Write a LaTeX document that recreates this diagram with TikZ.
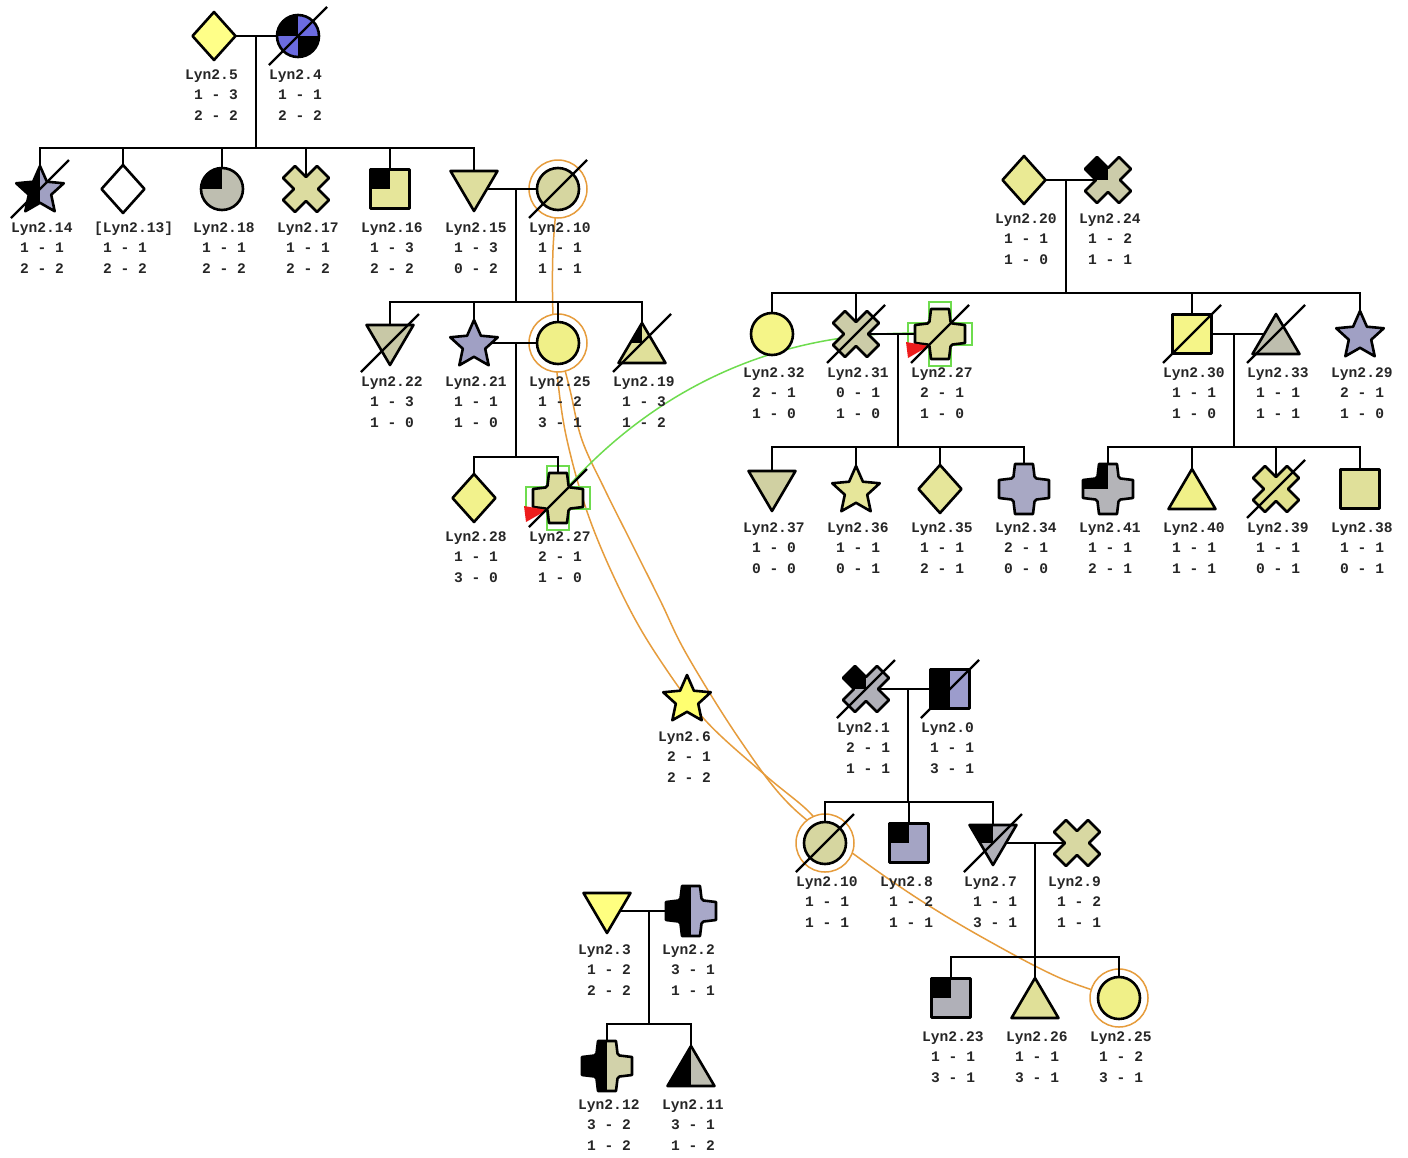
\documentclass[tikz,border=0pt]{standalone}
\usepackage{fontspec}
\newfontfamily\lblfont{Liberation Mono}
\usetikzlibrary{calc}
\definecolor{orgc}{HTML}{E69C3C}
\definecolor{grnc}{HTML}{6EDC4E}
\definecolor{redc}{HTML}{EE1C1C}
\definecolor{c5}{HTML}{FFFF88}
\definecolor{c4}{HTML}{6B6BE0}
\definecolor{c14}{HTML}{A0A0C2}
\definecolor{c18}{HTML}{BEBEB0}
\definecolor{c17}{HTML}{DCDCA0}
\definecolor{c16}{HTML}{E6E69A}
\definecolor{c15}{HTML}{DEDE9E}
\definecolor{c10}{HTML}{D6D6A0}
\definecolor{c22}{HTML}{C8C8A6}
\definecolor{c21}{HTML}{A0A0C4}
\definecolor{c25}{HTML}{F0F088}
\definecolor{c19}{HTML}{E0E09A}
\definecolor{c28}{HTML}{F2F28C}
\definecolor{c27}{HTML}{DCDC9C}
\definecolor{c20}{HTML}{EAEA94}
\definecolor{c24}{HTML}{CCCCAA}
\definecolor{c32}{HTML}{F5F588}
\definecolor{c31}{HTML}{CCCCA8}
\definecolor{c30}{HTML}{F5F588}
\definecolor{c33}{HTML}{BEBEAE}
\definecolor{c29}{HTML}{A0A0C4}
\definecolor{c37}{HTML}{D0D0A2}
\definecolor{c36}{HTML}{E6E69A}
\definecolor{c35}{HTML}{E6E69A}
\definecolor{c34}{HTML}{A8A8C4}
\definecolor{c41}{HTML}{B4B4B8}
\definecolor{c40}{HTML}{F0F088}
\definecolor{c39}{HTML}{E2E28E}
\definecolor{c38}{HTML}{E0E09A}
\definecolor{c6}{HTML}{FFFF70}
\definecolor{c1}{HTML}{B0B0B8}
\definecolor{c0}{HTML}{9C9CCC}
\definecolor{c8}{HTML}{A4A4C4}
\definecolor{c7}{HTML}{B0B0B8}
\definecolor{c9}{HTML}{D8D8A2}
\definecolor{c23}{HTML}{B0B0B8}
\definecolor{c26}{HTML}{E0E098}
\definecolor{c3}{HTML}{FFFF80}
\definecolor{c2}{HTML}{A8A8C8}
\definecolor{c12}{HTML}{D2D2AA}
\definecolor{c11}{HTML}{BEBEB2}
% shape paths (local coordinates, y downwards)
\newcommand{\ShCirc}{(0,0) circle[radius=21pt]}
\newcommand{\ShSq}{(-19.5,-19.5) rectangle (19.5,19.5)}
\newcommand{\ShDia}{(0,-24) -- (21.5,0) -- (0,24) -- (-21.5,0) -- cycle}
\newcommand{\ShDn}{(-23.5,-18) -- (23.5,-18) -- (0,22) -- cycle}
\newcommand{\ShUp}{(0,-20) -- (23.5,20) -- (-23.5,20) -- cycle}
\newcommand{\ShStar}{(0,-23) -- (6.9,-7.3) -- (23.78,-5.73) -- (11.2,5.7) -- (14.69,22.23) -- (0,13.8) -- (-14.69,22.23) -- (-11.2,5.7) -- (-23.78,-5.73) -- (-6.9,-7.3) -- cycle}
\newcommand{\ShPlus}{(-9,-25) -- (9,-25) -- (10.5,-12.5) -- (12.5,-10.5) -- (25,-9) -- (25,9) -- (12.5,10.5) -- (10.5,12.5) -- (9,25) -- (-9,25) -- (-10.5,12.5) -- (-12.5,10.5) -- (-25,9) -- (-25,-9) -- (-12.5,-10.5) -- (-10.5,-12.5) -- cycle}
\newcommand{\ShX}{(10.96,-22.98) -- (22.98,-10.96) -- (12.02,0) -- (22.98,10.96) -- (10.96,22.98) -- (0,12.02) -- (-10.96,22.98) -- (-22.98,10.96) -- (-12.02,0) -- (-22.98,-10.96) -- (-10.96,-22.98) -- (0,-12.02) -- cycle}
\newcommand{\ShGrn}{(-11,-32) -- (11,-32) -- (11,-11) -- (32,-11) -- (32,11) -- (11,11) -- (11,32) -- (-11,32) -- (-11,11) -- (-32,11) -- (-32,-11) -- (-11,-11) -- cycle}
% fill modes
\newcommand{\mNo}[1]{}
\newcommand{\mQ}[1]{\begin{scope}\clip #1; \fill[black] (-40,-40) rectangle (0,0);\end{scope}}
\newcommand{\mH}[1]{\begin{scope}\clip #1; \fill[black] (-40,-40) rectangle (0,40);\end{scope}}
\newcommand{\mX}[1]{\begin{scope}\clip #1; \fill[black] (-40,-40) rectangle (0,0); \fill[black] (0,0) rectangle (40,40);\end{scope}}
\newcommand{\shp}[4]{\begin{scope}[shift={(#1)}]\fill[#3] #2; #4{#2}\path[outl] #2;\end{scope}}
\newcommand{\dead}[1]{\draw[slash] ([shift={(-29,29)}]#1) -- ([shift={(29,-29)}]#1);}
\newcommand{\prob}[1]{\fill[redc] ([shift={(-34,8)}]#1) -- ([shift={(-32,24)}]#1) -- ([shift={(-11,12)}]#1) -- cycle;}
\newcommand{\lab}[4]{%
 \node[nm] (#1-n) at ([shift={(-29,38.5)}]#1) {#2};
 \node[nm] (#1-p) at ([shift={(-20,59)}]#1) {#3};
 \node[nm] (#1-q) at ([shift={(-20,80)}]#1) {#4};}
\begin{document}
\begin{tikzpicture}[x=1pt,y=-1pt,
 outl/.style={draw=black,line width=2.6pt,line join=round},
 lnk/.style={draw=black,line width=2.3pt,line cap=rect},
 slash/.style={draw=black,line width=2.3pt},
 ring/.style={draw=orgc,line width=1.5pt,fill=white},
 dup/.style={draw=orgc,line width=1.5pt},
 grn/.style={draw=grnc,line width=1.5pt},
 nm/.style={font=\lblfont\bfseries\fontsize{14.6}{17}\selectfont,inner sep=0pt,anchor=west,text=black!85,text height=9pt,text depth=0pt}]
\fill[white] (0,0) rectangle (1408,1157);
\useasboundingbox (0,0) rectangle (1408,1157);
% individuals
\coordinate (i5) at (214,36);
\coordinate (i4) at (298,36);
\coordinate (i14) at (40,189);
\coordinate (i13) at (123,189);
\coordinate (i18) at (222,189);
\coordinate (i17) at (306,189);
\coordinate (i16) at (390,189);
\coordinate (i15) at (474,189);
\coordinate (i10t) at (558,189);
\coordinate (i22) at (390,343);
\coordinate (i21) at (474,343);
\coordinate (i25m) at (558,343);
\coordinate (i19) at (642,343);
\coordinate (i28) at (474,498);
\coordinate (i27l) at (558,498);
\coordinate (i20) at (1024,180);
\coordinate (i24) at (1108,180);
\coordinate (i32) at (772,334);
\coordinate (i31) at (856,334);
\coordinate (i27r) at (940,334);
\coordinate (i30) at (1192,334);
\coordinate (i33) at (1276,334);
\coordinate (i29) at (1360,334);
\coordinate (i37) at (772,489);
\coordinate (i36) at (856,489);
\coordinate (i35) at (940,489);
\coordinate (i34) at (1024,489);
\coordinate (i41) at (1108,489);
\coordinate (i40) at (1192,489);
\coordinate (i39) at (1276,489);
\coordinate (i38) at (1360,489);
\coordinate (i6) at (687,698);
\coordinate (i1) at (866,689);
\coordinate (i0) at (950,689);
\coordinate (i10b) at (825,843);
\coordinate (i8) at (909,843);
\coordinate (i7) at (993,843);
\coordinate (i9) at (1077,843);
\coordinate (i23) at (951,998);
\coordinate (i26) at (1035,998);
\coordinate (i25b) at (1119,998);
\coordinate (i3) at (607,911);
\coordinate (i2) at (691,911);
\coordinate (i12) at (607,1066);
\coordinate (i11) at (691,1066);
% duplicate links
\draw[dup] plot[smooth,tension=0.6] coordinates {(i10t) (553,250) (553,316) (557,373) (567,440) (590,520) (625,600) (660,660) (705,720) (765,775) (812,815) (i10b)};
\draw[dup] plot[smooth,tension=0.6] coordinates {(i25m) (570,390) (582,440) (605,490) (630,540) (660,600) (687,655) (740,740) (790,805) (855,855) (920,900) (987,940) (1060,978) (i25b)};
\draw[grn] (i27l) .. controls (650,390) and (780,325) .. (i27r);
% rings and outlines
\foreach \cc in {i10t,i25m,i10b,i25b} {\path[ring] (\cc) circle[radius=29pt];}
\foreach \cc in {i27l,i27r} {\begin{scope}[shift={(\cc)}]\path[grn] \ShGrn;\end{scope}}
% family lines
\draw[lnk] (i5) -- (i4);
\coordinate (m1) at ($(i5)!.5!(i4)$);
\coordinate (s1) at ($(m1)+(0,112)$);
\draw[lnk] (m1) -- (s1);
\draw[lnk] (i14 |- s1) -- (i15 |- s1);
\foreach \cc in {i14,i13,i18,i17,i16,i15} {\draw[lnk] (\cc |- s1) -- (\cc);}
\draw[lnk] (i15) -- (i10t);
\coordinate (m2) at ($(i15)!.5!(i10t)$);
\coordinate (s2) at ($(m2)+(0,113)$);
\draw[lnk] (m2) -- (s2);
\draw[lnk] (i22 |- s2) -- (i19 |- s2);
\foreach \cc in {i22,i21,i25m,i19} {\draw[lnk] (\cc |- s2) -- (\cc);}
\draw[lnk] (i21) -- (i25m);
\coordinate (m3) at ($(i21)!.5!(i25m)$);
\coordinate (s3) at ($(m3)+(0,114)$);
\draw[lnk] (m3) -- (s3);
\draw[lnk] (i28 |- s3) -- (i27l |- s3);
\foreach \cc in {i28,i27l} {\draw[lnk] (\cc |- s3) -- (\cc);}
\draw[lnk] (i20) -- (i24);
\coordinate (m4) at ($(i20)!.5!(i24)$);
\coordinate (s4) at ($(m4)+(0,113)$);
\draw[lnk] (m4) -- (s4);
\draw[lnk] (i32 |- s4) -- (i29 |- s4);
\foreach \cc in {i32,i31,i30,i29} {\draw[lnk] (\cc |- s4) -- (\cc);}
\draw[lnk] (i31) -- (i27r);
\coordinate (m5) at ($(i31)!.5!(i27r)$);
\coordinate (s5) at ($(m5)+(0,113)$);
\draw[lnk] (m5) -- (s5);
\draw[lnk] (i37 |- s5) -- (i34 |- s5);
\foreach \cc in {i37,i36,i35,i34} {\draw[lnk] (\cc |- s5) -- (\cc);}
\draw[lnk] (i30) -- (i33);
\coordinate (m6) at ($(i30)!.5!(i33)$);
\coordinate (s6) at ($(m6)+(0,113)$);
\draw[lnk] (m6) -- (s6);
\draw[lnk] (i41 |- s6) -- (i38 |- s6);
\foreach \cc in {i41,i40,i39,i38} {\draw[lnk] (\cc |- s6) -- (\cc);}
\draw[lnk] (i1) -- (i0);
\coordinate (m7) at ($(i1)!.5!(i0)$);
\coordinate (s7) at ($(m7)+(0,113)$);
\draw[lnk] (m7) -- (s7);
\draw[lnk] (i10b |- s7) -- (i7 |- s7);
\foreach \cc in {i10b,i8,i7} {\draw[lnk] (\cc |- s7) -- (\cc);}
\draw[lnk] (i7) -- (i9);
\coordinate (m8) at ($(i7)!.5!(i9)$);
\coordinate (s8) at ($(m8)+(0,114)$);
\draw[lnk] (m8) -- (s8);
\draw[lnk] (i23 |- s8) -- (i25b |- s8);
\foreach \cc in {i23,i26,i25b} {\draw[lnk] (\cc |- s8) -- (\cc);}
\draw[lnk] (i3) -- (i2);
\coordinate (m9) at ($(i3)!.5!(i2)$);
\coordinate (s9) at ($(m9)+(0,113)$);
\draw[lnk] (m9) -- (s9);
\draw[lnk] (i12 |- s9) -- (i11 |- s9);
\foreach \cc in {i12,i11} {\draw[lnk] (\cc |- s9) -- (\cc);}
% shapes
\shp{i5}{\ShDia}{c5}{\mNo}
\shp{i4}{\ShCirc}{c4}{\mX}
\shp{i14}{\ShStar}{c14}{\mH}
\shp{i13}{\ShDia}{white}{\mNo}
\shp{i18}{\ShCirc}{c18}{\mQ}
\shp{i17}{\ShX}{c17}{\mNo}
\shp{i16}{\ShSq}{c16}{\mQ}
\shp{i15}{\ShDn}{c15}{\mNo}
\shp{i10t}{\ShCirc}{c10}{\mNo}
\shp{i22}{\ShDn}{c22}{\mNo}
\shp{i21}{\ShStar}{c21}{\mNo}
\shp{i25m}{\ShCirc}{c25}{\mNo}
\shp{i19}{\ShUp}{c19}{\mQ}
\shp{i28}{\ShDia}{c28}{\mNo}
\shp{i27l}{\ShPlus}{c27}{\mNo}
\shp{i20}{\ShDia}{c20}{\mNo}
\shp{i24}{\ShX}{c24}{\mQ}
\shp{i32}{\ShCirc}{c32}{\mNo}
\shp{i31}{\ShX}{c31}{\mNo}
\shp{i27r}{\ShPlus}{c27}{\mNo}
\shp{i30}{\ShSq}{c30}{\mNo}
\shp{i33}{\ShUp}{c33}{\mNo}
\shp{i29}{\ShStar}{c29}{\mNo}
\shp{i37}{\ShDn}{c37}{\mNo}
\shp{i36}{\ShStar}{c36}{\mNo}
\shp{i35}{\ShDia}{c35}{\mNo}
\shp{i34}{\ShPlus}{c34}{\mNo}
\shp{i41}{\ShPlus}{c41}{\mQ}
\shp{i40}{\ShUp}{c40}{\mNo}
\shp{i39}{\ShX}{c39}{\mNo}
\shp{i38}{\ShSq}{c38}{\mNo}
\shp{i6}{\ShStar}{c6}{\mNo}
\shp{i1}{\ShX}{c1}{\mQ}
\shp{i0}{\ShSq}{c0}{\mH}
\shp{i10b}{\ShCirc}{c10}{\mNo}
\shp{i8}{\ShSq}{c8}{\mQ}
\shp{i7}{\ShDn}{c7}{\mQ}
\shp{i9}{\ShX}{c9}{\mNo}
\shp{i23}{\ShSq}{c23}{\mQ}
\shp{i26}{\ShUp}{c26}{\mNo}
\shp{i25b}{\ShCirc}{c25}{\mNo}
\shp{i3}{\ShDn}{c3}{\mNo}
\shp{i2}{\ShPlus}{c2}{\mH}
\shp{i12}{\ShPlus}{c12}{\mH}
\shp{i11}{\ShUp}{c11}{\mH}
% proband arrows
\prob{i27l}
\prob{i27r}
% deceased
\foreach \cc in {i4,i14,i10t,i22,i19,i27l,i31,i27r,i30,i33,i39,i1,i0,i10b,i7} {\dead{\cc}}
% labels
\lab{i5}{Lyn2.5}{1 - 3}{2 - 2}
\lab{i4}{Lyn2.4}{1 - 1}{2 - 2}
\lab{i14}{Lyn2.14}{1 - 1}{2 - 2}
\lab{i13}{[Lyn2.13]}{1 - 1}{2 - 2}
\lab{i18}{Lyn2.18}{1 - 1}{2 - 2}
\lab{i17}{Lyn2.17}{1 - 1}{2 - 2}
\lab{i16}{Lyn2.16}{1 - 3}{2 - 2}
\lab{i15}{Lyn2.15}{1 - 3}{0 - 2}
\lab{i10t}{Lyn2.10}{1 - 1}{1 - 1}
\lab{i22}{Lyn2.22}{1 - 3}{1 - 0}
\lab{i21}{Lyn2.21}{1 - 1}{1 - 0}
\lab{i25m}{Lyn2.25}{1 - 2}{3 - 1}
\lab{i19}{Lyn2.19}{1 - 3}{1 - 2}
\lab{i28}{Lyn2.28}{1 - 1}{3 - 0}
\lab{i27l}{Lyn2.27}{2 - 1}{1 - 0}
\lab{i20}{Lyn2.20}{1 - 1}{1 - 0}
\lab{i24}{Lyn2.24}{1 - 2}{1 - 1}
\lab{i32}{Lyn2.32}{2 - 1}{1 - 0}
\lab{i31}{Lyn2.31}{0 - 1}{1 - 0}
\lab{i27r}{Lyn2.27}{2 - 1}{1 - 0}
\lab{i30}{Lyn2.30}{1 - 1}{1 - 0}
\lab{i33}{Lyn2.33}{1 - 1}{1 - 1}
\lab{i29}{Lyn2.29}{2 - 1}{1 - 0}
\lab{i37}{Lyn2.37}{1 - 0}{0 - 0}
\lab{i36}{Lyn2.36}{1 - 1}{0 - 1}
\lab{i35}{Lyn2.35}{1 - 1}{2 - 1}
\lab{i34}{Lyn2.34}{2 - 1}{0 - 0}
\lab{i41}{Lyn2.41}{1 - 1}{2 - 1}
\lab{i40}{Lyn2.40}{1 - 1}{1 - 1}
\lab{i39}{Lyn2.39}{1 - 1}{0 - 1}
\lab{i38}{Lyn2.38}{1 - 1}{0 - 1}
\lab{i6}{Lyn2.6}{2 - 1}{2 - 2}
\lab{i1}{Lyn2.1}{2 - 1}{1 - 1}
\lab{i0}{Lyn2.0}{1 - 1}{3 - 1}
\lab{i10b}{Lyn2.10}{1 - 1}{1 - 1}
\lab{i8}{Lyn2.8}{1 - 2}{1 - 1}
\lab{i7}{Lyn2.7}{1 - 1}{3 - 1}
\lab{i9}{Lyn2.9}{1 - 2}{1 - 1}
\lab{i23}{Lyn2.23}{1 - 1}{3 - 1}
\lab{i26}{Lyn2.26}{1 - 1}{3 - 1}
\lab{i25b}{Lyn2.25}{1 - 2}{3 - 1}
\lab{i3}{Lyn2.3}{1 - 2}{2 - 2}
\lab{i2}{Lyn2.2}{3 - 1}{1 - 1}
\lab{i12}{Lyn2.12}{3 - 2}{1 - 2}
\lab{i11}{Lyn2.11}{3 - 1}{1 - 2}
\end{tikzpicture}
\end{document}
